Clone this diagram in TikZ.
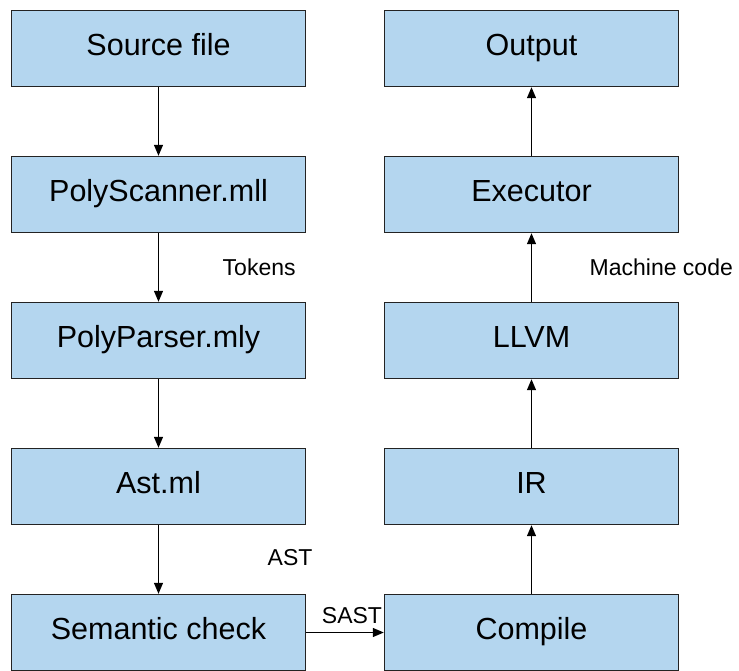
\documentclass[tikz,border=0pt]{standalone}
\usepackage{fontspec}
\setmainfont{Liberation Sans}
\usetikzlibrary{arrows.meta}
\usetikzlibrary{positioning,calc}
\definecolor{boxblue}{RGB}{180,214,239}
\definecolor{edgegray}{RGB}{35,35,35}

\begin{document}
\begin{tikzpicture}[
    x=1pt, y=1pt,
    node distance = 68.6pt and 77.6pt,
    stage/.style = {rectangle,draw=edgegray,fill=boxblue,line width=1.4pt,
        minimum width=294pt,minimum height=76pt,inner sep=0pt,
        text height=24pt,text depth=10pt,
        font=\fontsize{30.5}{36}\selectfont},
    flow/.style = {-{Triangle[length=11pt,width=9pt]},line width=1.2pt,color=black},
    tag/.style = {inner sep=0pt,font=\fontsize{23}{28}\selectfont},
    ]
    \useasboundingbox (0,0) rectangle (739,-670);
    % front end, top to bottom
    \node[stage] (source) at (158.5,-48.5) {Source file};
    \node[stage] (scanner) [below = of source] {PolyScanner.mll};
    \node[stage] (parser) [below = of scanner] {PolyParser.mly};
    \node[stage] (ast) [below = of parser] {Ast.ml};
    \node[stage] (semantic) [below = of ast] {Semantic check};
    % back end, bottom to top
    \node[stage] (compile) [right = of semantic] {Compile};
    \node[stage] (ir) [above = of compile] {IR};
    \node[stage] (llvm) [above = of ir] {LLVM};
    \node[stage] (executor) [above = of llvm] {Executor};
    \node[stage] (output) [above = of executor] {Output};

    \draw[flow] (source) -- (scanner);
    \draw[flow] (scanner) -- (parser);
    \draw[flow] (parser) -- (ast);
    \draw[flow] (ast) -- (semantic);
    \draw[flow] (semantic) -- (compile);
    \draw[flow] (compile) -- (ir);
    \draw[flow] (ir) -- (llvm);
    \draw[flow] (llvm) -- (executor);
    \draw[flow] (executor) -- (output);

    \node[tag,anchor=west,xshift=64pt] (tokens) at ($(scanner.south)!.5!(parser.north)$) {Tokens};
    \node[tag,anchor=west,xshift=109pt,yshift=2pt] (asttag) at ($(ast.south)!.5!(semantic.north)$) {AST};
    \node[tag,anchor=south,xshift=7pt,yshift=9pt] (sasttag) at ($(semantic.east)!.5!(compile.west)$) {SAST};
    \node[tag,anchor=west,xshift=58pt] (machine) at ($(llvm.north)!.5!(executor.south)$) {Machine code};
\end{tikzpicture}
\end{document}
